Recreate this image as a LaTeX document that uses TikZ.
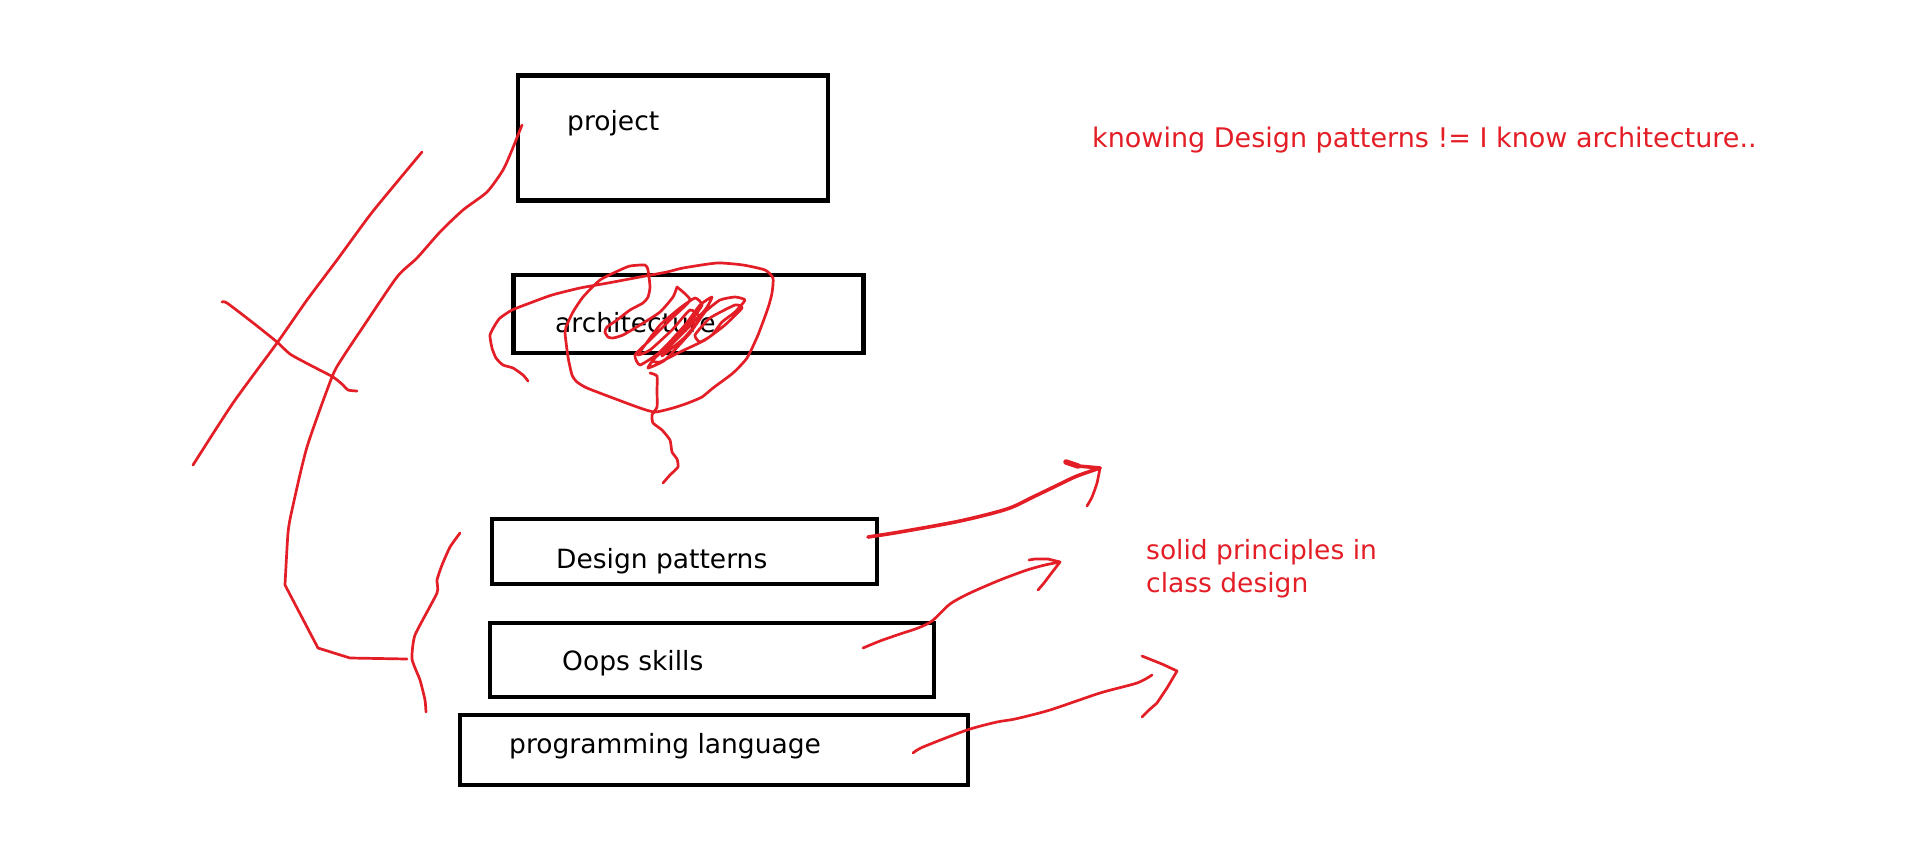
\documentclass[tikz,border=0pt]{standalone}
\usepackage{fontspec}
\setmainfont{DejaVu Sans}
\usetikzlibrary{positioning}
\definecolor{pen}{RGB}{228,30,38}

\begin{document}
\begin{tikzpicture}[x=1pt,y=-1pt,
  layer/.style={draw,rectangle,line width=4.6pt,inner sep=0pt},
  caption/.style={anchor=base west,inner sep=0pt,font=\fontsize{26.5}{33}\selectfont},
  remark/.style={caption,text=pen},
  ink/.style={draw=pen,line width=2.7pt,line cap=round,line join=round},
  heavy/.style={ink,line width=3.6pt}]
  \useasboundingbox[fill=white] (0,0) rectangle (1914,847);

  \node[layer,minimum width=310pt,minimum height=125pt] (project)     at (673,138)   {};
  \node[layer,minimum width=350pt,minimum height=78pt]  (architecture) at (688.5,314) {};
  \node[layer,minimum width=385pt,minimum height=65pt]  (patterns)    at (684.5,551.5) {};
  \node[layer,minimum width=444pt,minimum height=74pt]  (oops)        at (712,660)   {};
  \node[layer,minimum width=508pt,minimum height=70pt]  (language)    at (714,750)   {};

  \node[caption] (projectLbl)  at (567,130) {project};
  \node[caption] (archLbl)     at (555,332) {architecture};
  \node[caption] (patternsLbl) at (556,568) {Design patterns};
  \node[caption] (oopsLbl)     at (562,670) {Oops skills};
  \node[caption] (langLbl)     at (509,753) {programming language};

  \node[remark,font=\fontsize{27}{33}\selectfont] (myth) at (1092,147) {knowing Design patterns != I know architecture..};
  \node[remark] (solid)  at (1146,559.5) {solid principles in};
  \node[remark] (solid2) at (1146,592.5) {class design};

  \coordinate (patTail)  at (868,537);
  \coordinate (patTip)   at (1100,468);
  \coordinate (oopsTail) at (863,648);
  \coordinate (oopsTip)  at (1060,562);
  \coordinate (langTail) at (913,753);
  \coordinate (langTip)  at (1177,671);

  \draw[ink] plot[smooth,tension=.4] coordinates {(422,152) (397,182) (370,215) (337,260) (307,300) (277,343) (233,403) (193,465)};
  \draw[ink] plot[smooth,tension=.4] coordinates {(222,302) (227,303) (252,322) (277,342) (290,354) (310,365) (333,377) (343,385) (348,390) (357,391)};
  \draw[ink] plot[smooth,tension=.4] coordinates {(522,125) (512,150) (503,170) (487,192) (463,210) (440,232) (417,258) (397,277) (363,327) (343,357) (332,377) (307,447) (292,510) (288,533) (285,585)}
    -- (318,648) -- (350,658) -- (407,659);
  \draw[ink] plot[smooth,tension=.3] coordinates {(460,533) (450,547) (442,565) (437,580) (437,593) (415,635) (412,659) (420,680) (425,700) (426,712)};

  \draw[ink] plot[smooth,tension=.35] coordinates {(528,381) (523,375) (513,368) (503,365) (496,358) (492,348) (490,335) (495,325) (500,318) (512,310) (530,303) (552,295) (580,288) (608,283) (640,277) (667,272) (683,268) (717,263) (743,265) (765,270) (773,278) (772,293) (768,308) (758,335) (747,358) (733,373) (713,388) (702,397) (688,403) (673,408) (655,412) (640,408) (613,398) (587,388) (577,382) (572,375) (568,357) (565,333) (566,327) (573,312) (583,297) (600,280) (620,270) (630,266) (645,265) (648,270) (650,287) (648,297) (643,303) (630,310) (617,320) (607,327) (605,332) (608,337) (613,338) (623,335) (640,325) (660,312) (673,297) (677,287)};
  \draw[ink] plot[smooth,tension=.3] coordinates {(677,287) (690,300) (672,318) (650,340) (635,355) (640,365) (660,352) (685,325) (700,305) (712,297) (705,310) (680,335) (655,358) (648,368) (665,360) (690,333) (705,312) (720,300) (735,297) (745,300) (735,312) (722,322) (712,335) (700,342) (695,335) (710,318) (735,305) (742,308) (725,325) (705,340) (680,352) (660,362) (652,360) (670,342) (690,322) (702,305) (695,298) (680,308) (660,325) (645,345) (638,355) (650,350) (672,330) (690,310) (700,318) (684,338) (662,356) (668,348) (694,322)};
  \draw[ink] plot[smooth,tension=.3] coordinates {(650,373) (657,376) (657,390) (657,407) (652,415) (653,423) (662,430) (670,440) (672,452) (677,459) (678,467) (670,475) (663,483)};

  \draw[heavy] plot[smooth,tension=.5] coordinates {(patTail) (900,532) (960,521) (1007,509) (1033,497) (1060,484) (1077,476) (patTip)};
  \draw[ink,line width=5.5pt] (1066,462) -- (1078,466);
  \draw[heavy] (1078,466) -- (patTip);
  \draw[ink] plot[smooth,tension=.4] coordinates {(patTip) (1097,483) (1092,497) (1087,506)};

  \draw[ink] plot[smooth,tension=.45] coordinates {(oopsTail) (880,641) (900,634) (918,628) (932,621) (950,604) (970,593) (1000,580) (1027,570) (1045,565) (oopsTip)};
  \draw[ink] (1029,560) -- (1035,559) -- (1048,559) -- (oopsTip) -- (1050,575) -- (1044,583) -- (1038,590);

  \draw[ink] plot[smooth,tension=.45] coordinates {(langTail) (923,747) (967,730) (997,722) (1015,719) (1050,710) (1100,693) (1137,683) (1152,675)};
  \draw[ink] (1142,656) -- (1147,658) -- (1162,664) -- (langTip) -- (1167,688) -- (1157,703) -- (1149,710) -- (1142,717);
\end{tikzpicture}
\end{document}
